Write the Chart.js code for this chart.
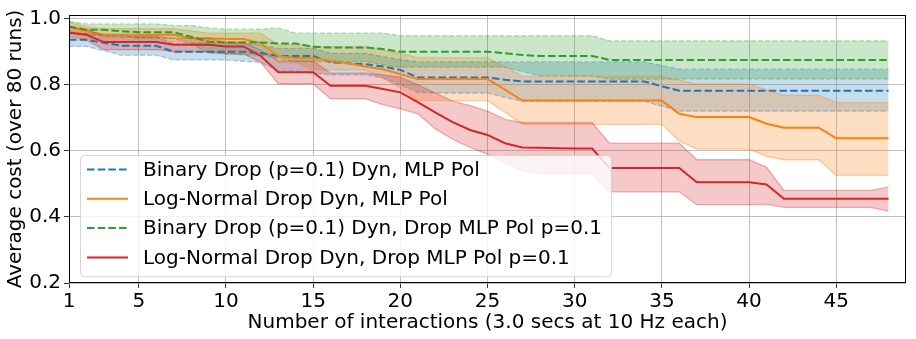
<!DOCTYPE html>
<html>
<head>
<meta charset="utf-8">
<script src="https://cdn.jsdelivr.net/npm/chart.js@4.4.0/dist/chart.umd.min.js"></script>
<style>
  html, body { margin: 0; padding: 0; background: #fff; }
  #wrap { width: 916px; height: 339px; }
</style>
</head>
<body>
<div id="wrap"><canvas id="chart" width="916" height="339"></canvas></div>
<script>
// interaction index (x axis)
const xs = [1,2,3,4,5,6,7,8,9,10,11,12,13,14,15,16,17,18,19,20,21,22,23,24,
            25,26,27,28,29,30,31,32,33,34,35,36,37,38,39,40,41,42,43,44,45,46,47,48];
const xTicks = [1, 5, 10, 15, 20, 25, 30, 35, 40, 45];
const yTicks = [0.2, 0.4, 0.6, 0.8, 1.0];

const seriesNames = [
  'Binary Drop (p=0.1) Dyn, MLP Pol',
  'Log-Normal Drop Dyn, MLP Pol',
  'Binary Drop (p=0.1) Dyn, Drop MLP Pol p=0.1',
  'Log-Normal Drop Dyn, Drop MLP Pol p=0.1'
];

// Binary Drop Dyn, MLP Pol (blue)
const blueMean = [0.936,0.936,0.927,0.918,0.918,0.918,0.900,0.900,0.900,0.900,
                  0.900,0.896,0.887,0.887,0.887,0.868,0.865,0.862,0.855,0.845,
                  0.822,0.822,0.822,0.822,0.822,0.815,0.810,0.810,0.810,0.810,
                  0.810,0.810,0.810,0.810,0.795,0.782,0.782,0.782,0.782,0.782,
                  0.782,0.782,0.782,0.782,0.782,0.782,0.782,0.782];
const blueHi   = [0.955,0.955,0.950,0.945,0.945,0.945,0.925,0.925,0.925,0.925,
                  0.925,0.920,0.910,0.910,0.910,0.895,0.895,0.895,0.885,0.876,
                  0.869,0.869,0.869,0.869,0.869,0.869,0.869,0.869,0.869,0.869,
                  0.869,0.869,0.869,0.869,0.858,0.847,0.847,0.847,0.847,0.847,
                  0.847,0.847,0.847,0.847,0.847,0.847,0.847,0.847];
const blueLo   = [0.916,0.916,0.903,0.889,0.889,0.889,0.875,0.875,0.875,0.875,
                  0.871,0.867,0.842,0.842,0.835,0.830,0.830,0.830,0.820,0.800,
                  0.777,0.775,0.775,0.775,0.775,0.762,0.750,0.750,0.750,0.750,
                  0.750,0.750,0.750,0.750,0.735,0.720,0.720,0.720,0.720,0.720,
                  0.720,0.720,0.720,0.720,0.720,0.720,0.720,0.720];

// Log-Normal Drop Dyn, MLP Pol (orange)
const orangeMean = [0.975,0.962,0.951,0.951,0.951,0.951,0.951,0.941,0.941,0.938,
                    0.938,0.926,0.887,0.881,0.881,0.872,0.865,0.855,0.847,0.832,
                    0.817,0.817,0.817,0.817,0.817,0.785,0.752,0.752,0.752,0.752,
                    0.752,0.752,0.752,0.752,0.752,0.712,0.702,0.702,0.702,0.702,
                    0.682,0.670,0.670,0.670,0.638,0.638,0.638,0.638];
const orangeHi   = [0.990,0.975,0.970,0.970,0.970,0.970,0.970,0.963,0.956,0.956,
                    0.956,0.956,0.921,0.921,0.915,0.915,0.915,0.915,0.905,0.895,
                    0.882,0.882,0.882,0.882,0.882,0.855,0.826,0.826,0.826,0.826,
                    0.826,0.826,0.826,0.826,0.826,0.815,0.802,0.802,0.802,0.802,
                    0.785,0.768,0.768,0.768,0.746,0.746,0.746,0.746];
const orangeLo   = [0.955,0.940,0.931,0.931,0.931,0.931,0.931,0.926,0.926,0.926,
                    0.926,0.916,0.867,0.867,0.845,0.845,0.845,0.845,0.820,0.790,
                    0.752,0.752,0.752,0.752,0.752,0.717,0.680,0.680,0.680,0.680,
                    0.680,0.680,0.680,0.680,0.680,0.630,0.605,0.605,0.605,0.605,
                    0.583,0.573,0.573,0.573,0.526,0.526,0.526,0.526];

// Binary Drop Dyn, Drop MLP Pol (green)
const greenMean = [0.976,0.966,0.966,0.962,0.959,0.959,0.959,0.945,0.930,0.928,
                   0.928,0.928,0.925,0.925,0.915,0.913,0.913,0.913,0.908,0.900,
                   0.900,0.900,0.900,0.900,0.900,0.895,0.890,0.887,0.887,0.887,
                   0.887,0.875,0.875,0.875,0.875,0.875,0.875,0.875,0.875,0.875,
                   0.875,0.875,0.875,0.875,0.875,0.875,0.875,0.875];
const greenHi   = [0.991,0.984,0.984,0.984,0.984,0.984,0.979,0.979,0.972,0.968,
                   0.968,0.968,0.972,0.956,0.956,0.956,0.956,0.956,0.956,0.948,
                   0.948,0.948,0.948,0.948,0.948,0.948,0.948,0.948,0.948,0.948,
                   0.948,0.933,0.933,0.933,0.933,0.933,0.933,0.933,0.933,0.933,
                   0.933,0.933,0.933,0.933,0.933,0.933,0.933,0.933];
const greenLo   = [0.955,0.950,0.950,0.950,0.940,0.940,0.940,0.925,0.895,0.895,
                   0.890,0.890,0.880,0.870,0.870,0.870,0.870,0.870,0.860,0.853,
                   0.853,0.853,0.853,0.853,0.853,0.853,0.840,0.827,0.827,0.827,
                   0.827,0.817,0.817,0.817,0.817,0.817,0.817,0.817,0.817,0.817,
                   0.817,0.817,0.817,0.817,0.817,0.817,0.817,0.817];

// Log-Normal Drop Dyn, Drop MLP Pol (red)
const redMean = [0.958,0.951,0.929,0.929,0.929,0.929,0.921,0.921,0.921,0.916,
                 0.916,0.887,0.838,0.838,0.838,0.797,0.797,0.797,0.787,0.777,
                 0.747,0.716,0.687,0.663,0.648,0.623,0.610,0.609,0.608,0.607,
                 0.607,0.548,0.548,0.548,0.548,0.548,0.505,0.505,0.505,0.505,
                 0.498,0.455,0.455,0.455,0.455,0.455,0.455,0.455];
const redHi   = [0.975,0.968,0.946,0.946,0.946,0.946,0.940,0.940,0.940,0.928,
                 0.928,0.905,0.872,0.872,0.872,0.835,0.835,0.835,0.830,0.822,
                 0.800,0.775,0.750,0.737,0.720,0.695,0.685,0.685,0.685,0.685,
                 0.685,0.623,0.623,0.623,0.623,0.623,0.573,0.573,0.573,0.573,
                 0.550,0.480,0.480,0.480,0.480,0.480,0.480,0.490];
const redLo   = [0.946,0.935,0.906,0.906,0.906,0.906,0.900,0.900,0.900,0.893,
                 0.893,0.868,0.803,0.803,0.803,0.757,0.757,0.757,0.740,0.727,
                 0.712,0.667,0.635,0.610,0.590,0.565,0.540,0.530,0.530,0.530,
                 0.530,0.476,0.476,0.476,0.476,0.476,0.437,0.437,0.437,0.437,
                 0.438,0.429,0.429,0.429,0.429,0.429,0.429,0.417];

const FONT = '"DejaVu Sans", sans-serif';
const FS = 20;

function pts(arr) {
  return arr.map((v, i) => ({ x: xs[i], y: v }));
}

function rgba(rgb, a) {
  return 'rgba(' + rgb.join(',') + ',' + a + ')';
}

// one group = mean line + upper/lower bound with shaded band between
function group(rgb, mean, hi, lo, dashed, base) {
  const dash = dashed ? [7.5, 3.2] : [];
  const thinDash = dashed ? [5, 2.2] : [];
  return [
    { data: pts(mean), borderColor: rgba(rgb, 1), borderWidth: 2, borderDash: dash, fill: false },
    { data: pts(hi), borderColor: rgba(rgb, 0.35), borderWidth: 1.3, borderDash: thinDash,
      backgroundColor: rgba(rgb, 0.25), fill: { target: base + 2 } },
    { data: pts(lo), borderColor: rgba(rgb, 0.35), borderWidth: 1.3, borderDash: thinDash, fill: false }
  ];
}

const blue = [31, 119, 180], orange = [255, 127, 14], green = [44, 160, 44], red = [214, 39, 40];
const legendColors = [blue, orange, green, red];
const legendDashed = [true, false, true, false];

// first dataset ends up on top, so red goes first and blue last
const datasets = [].concat(
  group(red, redMean, redHi, redLo, false, 0),
  group(green, greenMean, greenHi, greenLo, true, 3),
  group(orange, orangeMean, orangeHi, orangeLo, false, 6),
  group(blue, blueMean, blueHi, blueLo, true, 9)
);
datasets.forEach(d => { d.pointRadius = 0; d.tension = 0; });

const framePlugin = {
  id: 'frame',
  afterDraw(chart) {
    const ctx = chart.ctx, a = chart.chartArea;
    ctx.save();
    ctx.strokeStyle = '#000';
    ctx.lineWidth = 1;
    ctx.strokeRect(Math.round(a.left) + 0.5, Math.round(a.top) + 0.5,
                   Math.round(a.right - a.left) - 1, Math.round(a.bottom - a.top) - 1);

    // legend box, lower left inside the plot
    ctx.font = FS + 'px ' + FONT;
    let maxW = 0;
    seriesNames.forEach(n => { maxW = Math.max(maxW, ctx.measureText(n).width); });
    const bx = a.left + 11, by = a.top + 140;
    const rowH = 29.3;
    const bw = 63 + maxW + 9, bh = rowH * 4 + 4;
    ctx.beginPath();
    ctx.roundRect(bx + 0.5, by + 0.5, bw, bh, 4);
    ctx.fillStyle = 'rgba(255,255,255,0.8)';
    ctx.fill();
    ctx.strokeStyle = 'rgba(204,204,204,0.8)';
    ctx.lineWidth = 1;
    ctx.stroke();
    seriesNames.forEach((n, i) => {
      const y = by + 14.5 + i * rowH;
      ctx.beginPath();
      ctx.setLineDash(legendDashed[i] ? [7.5, 3.2] : []);
      ctx.strokeStyle = rgba(legendColors[i], 1);
      ctx.lineWidth = 2;
      ctx.moveTo(bx + 7, y);
      ctx.lineTo(bx + 48, y);
      ctx.stroke();
      ctx.setLineDash([]);
      ctx.fillStyle = '#000';
      ctx.textBaseline = 'middle';
      ctx.textAlign = 'left';
      ctx.fillText(n, bx + 63, y + 1);
    });
    ctx.restore();
  }
};

new Chart(document.getElementById('chart'), {
  type: 'line',
  data: { datasets: datasets },
  plugins: [framePlugin],
  options: {
    responsive: false,
    devicePixelRatio: 1,
    animation: false,
    layout: { padding: { top: 12, right: 10, left: 0, bottom: 0 } },
    plugins: {
      legend: { display: false },
      tooltip: { enabled: false },
      filler: { drawTime: 'beforeDatasetsDraw', propagate: false }
    },
    scales: {
      x: {
        type: 'linear',
        min: 1,
        max: 49,
        afterBuildTicks: s => { s.ticks = xTicks.map(v => ({ value: v })); },
        afterFit: s => { s.height = 56; },
        grid: { color: '#b0b0b0', lineWidth: 0.8, tickLength: 5, tickColor: '#000' },
        border: { display: false },
        ticks: { color: '#000', font: { family: FONT, size: FS }, padding: 2, maxRotation: 0, autoSkip: false },
        title: { display: true, text: 'Number of interactions (3.0 secs at 10 Hz each)',
                 color: '#000', font: { family: FONT, size: FS }, padding: { top: 0, bottom: 4 } }
      },
      y: {
        min: 0.2,
        max: 1.011,
        afterBuildTicks: s => { s.ticks = yTicks.map(v => ({ value: v })); },
        afterFit: s => { s.width = 69; },
        grid: { color: '#b0b0b0', lineWidth: 0.8, tickLength: 5, tickColor: '#000' },
        border: { display: false },
        ticks: { color: '#000', font: { family: FONT, size: FS }, padding: 3,
                 callback: v => v.toFixed(1) },
        title: { display: true, text: 'Average cost (over 80 runs)',
                 color: '#000', font: { family: FONT, size: FS }, padding: { top: 4, bottom: 0 } }
      }
    }
  }
});
</script>
</body>
</html>
